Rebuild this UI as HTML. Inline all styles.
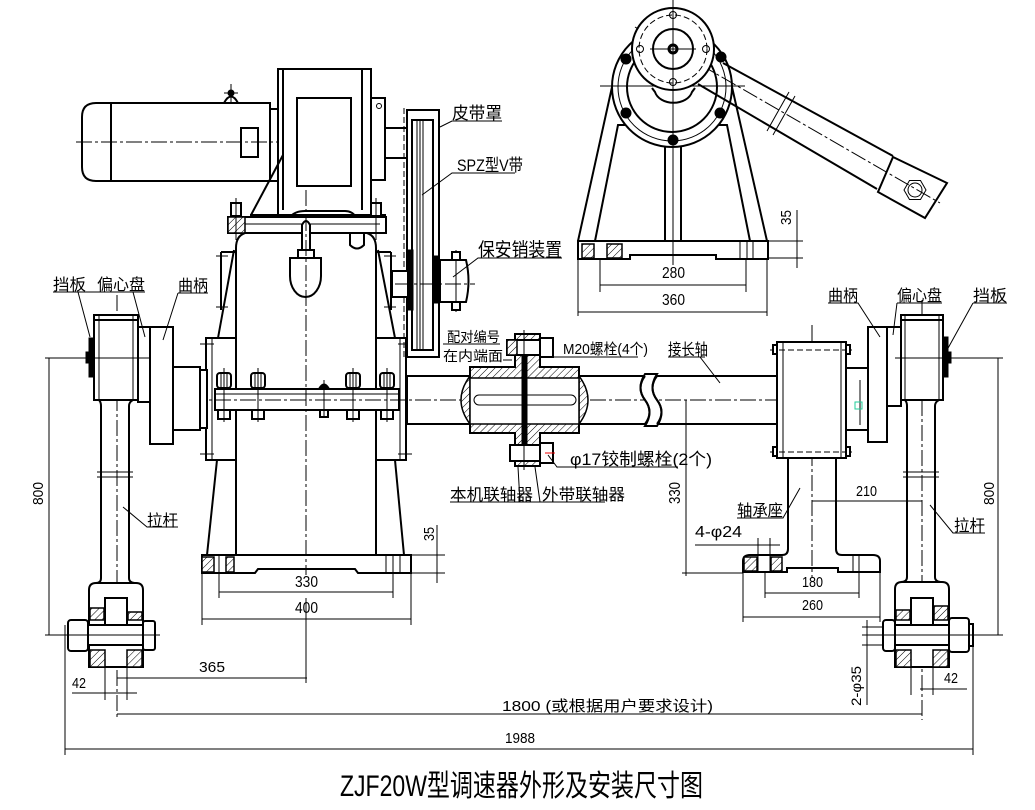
<!DOCTYPE html>
<html><head><meta charset="utf-8"><style>
html,body{margin:0;padding:0;background:#fff}
svg{display:block}
text{font-family:"Liberation Sans","Noto Sans CJK SC",sans-serif;fill:#000}
.k{stroke:#000;stroke-width:2;fill:none}
.w{stroke:#000;stroke-width:2;fill:#fff}
.n{stroke:#000;stroke-width:1;fill:none}
.c{stroke:#000;stroke-width:1;fill:none;stroke-dasharray:16 3 3 3}
.d{stroke:#000;stroke-width:1;fill:none;stroke-dasharray:6 3}
.h{fill:url(#hp);stroke:#000;stroke-width:1.5}
.b{fill:#000;stroke:#000;stroke-width:1}
</style></head><body>
<svg width="1035" height="810" viewBox="0 0 1035 810" xmlns="http://www.w3.org/2000/svg">
<defs>
<pattern id="hp" width="5" height="5" patternUnits="userSpaceOnUse" patternTransform="rotate(45)"><rect width="5" height="5" fill="#fff"/><line x1="0" y1="0" x2="0" y2="5" stroke="#000" stroke-width="1"/></pattern>
</defs>
<rect width="1035" height="810" fill="#fff"/>

<!-- ================= MOTOR + REDUCER ================= -->
<line class="c" x1="76" y1="142" x2="420" y2="142"/>
<path class="k" d="M111,103 H270 V181 H111 Z"/>
<path class="k" d="M111,103 H96 Q82,103 82,117 V167 Q82,181 96,181 H111"/>
<rect class="k" x="241" y="128" width="17" height="29"/>
<rect class="k" x="270" y="109" width="8" height="72"/>
<path class="k" d="M224,103 Q231,90 238,103"/>
<line class="n" x1="231" y1="84" x2="231" y2="102"/>
<line class="n" x1="224" y1="93" x2="238" y2="93"/>
<circle class="b" cx="231" cy="93" r="3"/>

<rect class="w" x="278" y="69" width="93" height="146"/>
<line class="k" x1="283" y1="69" x2="283" y2="210"/>
<line class="k" x1="362" y1="69" x2="362" y2="210"/>
<rect class="k" x="297" y="98" width="54" height="88"/>
<rect class="w" x="371" y="98" width="14" height="82"/>
<circle class="n" cx="379" cy="106" r="2.5"/>
<rect class="w" x="385" y="128" width="22" height="30"/>
<line class="k" x1="283" y1="155" x2="251" y2="215"/>
<path class="k" d="M250,215 H283 M362,215 H386"/>

<!-- top plate -->
<rect class="w" x="228" y="217" width="158" height="16"/>
<line class="n" x1="245" y1="224" x2="380" y2="224"/>
<rect class="h" x="228" y="217" width="17" height="16"/>
<path class="k" d="M290,217 Q295,211 305,211 H345 Q352,211 356,217"/>
<rect class="w" x="231" y="203" width="10" height="13"/>
<line class="n" x1="236" y1="198" x2="236" y2="240"/>
<rect class="w" x="371" y="203" width="10" height="13"/>
<line class="n" x1="376" y1="198" x2="376" y2="240"/>
<path class="k" d="M350,233 V245 Q357,252 364,245 V233" fill="#ffffd8"/>

<!-- pendulum -->
<path class="w" d="M302,256 V225 Q306,217 310,225 V256 Z"/>
<rect class="w" x="298" y="250" width="16" height="8"/>
<path class="w" d="M290,258 H321 V276 A15.5,21 0 0 1 290,276 Z"/>

<!-- gearbox body -->
<path class="k" d="M245,233 Q236,236 236,248 V555"/>
<path class="k" d="M367,233 Q376,236 376,248 V555"/>
<path class="k" d="M221,252 V310 M234,250 L218,338 M221,252 H236"/>
<path class="k" d="M391,252 V310 M378,250 L395,338 M391,252 H376"/>
<line class="n" x1="216" y1="256" x2="228" y2="256"/><line class="n" x1="216" y1="307" x2="228" y2="307"/>
<line class="n" x1="384" y1="256" x2="396" y2="256"/><line class="n" x1="384" y1="307" x2="396" y2="307"/>
<rect class="w" x="206" y="338" width="30" height="122"/>
<rect class="w" x="376" y="338" width="30" height="122"/>
<line class="n" x1="212" y1="338" x2="212" y2="460"/>
<line class="n" x1="400" y1="338" x2="400" y2="460"/>
<line class="n" x1="200" y1="344" x2="214" y2="344"/><line class="n" x1="200" y1="454" x2="214" y2="454"/>
<line class="n" x1="398" y1="344" x2="412" y2="344"/><line class="n" x1="398" y1="454" x2="412" y2="454"/>

<!-- horizontal shaft bar -->
<rect class="w" x="215" y="389" width="184" height="21"/>
<line class="n" x1="215" y1="394" x2="399" y2="394"/>
<g>
<rect class="w" x="217" y="373" width="14" height="15" rx="3"/><line class="n" x1="221" y1="373" x2="221" y2="388"/><line class="n" x1="227" y1="373" x2="227" y2="388"/><rect class="w" x="218" y="410" width="12" height="9"/>
<rect class="w" x="251" y="373" width="14" height="15" rx="3"/><line class="n" x1="255" y1="373" x2="255" y2="388"/><line class="n" x1="261" y1="373" x2="261" y2="388"/><rect class="w" x="252" y="410" width="12" height="9"/>
<rect class="w" x="346" y="373" width="14" height="15" rx="3"/><line class="n" x1="350" y1="373" x2="350" y2="388"/><line class="n" x1="356" y1="373" x2="356" y2="388"/><rect class="w" x="347" y="410" width="12" height="9"/>
<rect class="w" x="380" y="373" width="14" height="15" rx="3"/><line class="n" x1="384" y1="373" x2="384" y2="388"/><line class="n" x1="390" y1="373" x2="390" y2="388"/><rect class="w" x="381" y="410" width="12" height="9"/>
<line class="n" x1="224" y1="368" x2="224" y2="422"/><line class="n" x1="258" y1="368" x2="258" y2="422"/>
<line class="n" x1="353" y1="368" x2="353" y2="422"/><line class="n" x1="387" y1="368" x2="387" y2="422"/>
<path class="b" d="M319,388 Q324,380 329,388 Z"/><rect class="w" x="320" y="410" width="8" height="7"/>
<line class="n" x1="324" y1="380" x2="324" y2="418"/>
</g>

<!-- legs & base -->
<path class="k" d="M217,460 L207,555"/>
<path class="k" d="M395,460 L404,555"/>
<path class="w" d="M202,555 H411 V573 H358 L355,569 H258 L255,573 H202 Z"/>
<rect class="h" x="202" y="557" width="12" height="15"/>
<rect class="h" x="226" y="557" width="8" height="15"/>
<line class="n" x1="219" y1="555" x2="219" y2="573"/>
<line class="n" x1="386" y1="555" x2="386" y2="573"/><line class="n" x1="393" y1="555" x2="393" y2="573"/><line class="n" x1="400" y1="555" x2="400" y2="573"/>

<!-- centre line gearbox -->
<line class="c" x1="306" y1="190" x2="306" y2="575"/>
<line class="n" x1="306" y1="598" x2="306" y2="683"/>

<!-- ================= PULLEY / GUARD ================= -->
<line class="d" x1="404" y1="108" x2="404" y2="360"/>
<rect class="w" x="407" y="110" width="32" height="247"/>
<rect class="k" x="412" y="120" width="21" height="230"/>
<line class="n" x1="417" y1="120" x2="417" y2="350"/>
<line class="n" x1="420" y1="120" x2="420" y2="350"/>
<line class="n" x1="423" y1="120" x2="423" y2="350"/>
<rect class="b" x="408" y="250" width="5" height="60"/>
<rect class="b" x="433" y="256" width="5" height="47"/>
<rect class="w" x="392" y="271" width="16" height="26"/>
<path class="w" d="M440,260 H466 Q471,281 466,302 H440 Z"/>
<line class="n" x1="456" y1="250" x2="456" y2="312"/>
<rect class="w" x="452" y="252" width="8" height="8"/><rect class="w" x="452" y="302" width="8" height="8"/>
<line class="c" x1="395" y1="284" x2="475" y2="284"/>

<!-- ================= SIDE VIEW (top right) ================= -->
<path class="k" d="M612,87 L578,241"/>
<path class="k" d="M732,87 L767,241"/>
<path class="k" d="M630,125 H618 L595,241"/>
<path class="k" d="M715,125 H727 L750,241"/>
<rect class="w" x="665" y="146" width="16" height="95"/>
<path class="w" d="M578,241 H768 V259 H716 V255 H630 V259 H578 Z"/>
<rect class="h" x="582" y="244" width="12" height="14"/>
<rect class="h" x="607" y="244" width="15" height="14"/>
<line class="n" x1="740" y1="241" x2="740" y2="259"/><line class="n" x1="747" y1="241" x2="747" y2="259"/><line class="n" x1="753" y1="241" x2="753" y2="259"/>
<circle class="w" cx="672" cy="87" r="60"/>
<circle class="n" cx="672" cy="87" r="54"/>
<circle class="k" cx="672" cy="87" r="45"/>
<path class="k" d="M652,88 L655,92 A19,14 0 0 0 692,92 L695,88"/>
<line class="n" x1="600" y1="86" x2="745" y2="86"/>
<!-- arm -->
<line class="k" x1="723" y1="63" x2="893" y2="156"/>
<line class="k" x1="698" y1="84" x2="877" y2="189"/>
<line class="n" x1="789" y1="92" x2="767" y2="131"/>
<line class="n" x1="795" y1="96" x2="773" y2="135"/>
<path class="w" d="M893,157 L947,183 L925,218 L878,192 Z"/>
<polygon class="n" points="926,190 920.5,199.5 909.5,199.5 904,190 909.5,180.5 920.5,180.5"/>
<circle class="n" cx="915" cy="190" r="7"/>
<line class="c" x1="635" y1="27" x2="940" y2="203"/>
<!-- upper disc -->
<circle class="w" cx="673" cy="49" r="41"/>
<circle class="d" cx="673" cy="49" r="34"/>
<circle class="k" cx="673" cy="49" r="20"/>
<circle cx="673" cy="49" r="4" fill="#fff" stroke="#000" stroke-width="3"/>
<g class="n">
<circle cx="673" cy="15" r="3.5"/><circle cx="640" cy="49" r="3.5"/><circle cx="706" cy="49" r="3.5"/><circle cx="673" cy="82" r="3.5"/>
</g>
<line class="n" x1="673" y1="0" x2="673" y2="265"/>
<line class="n" x1="650" y1="49" x2="696" y2="49"/>
<circle class="b" cx="626" cy="59" r="5"/><circle class="b" cx="721" cy="57" r="5"/>
<circle class="b" cx="626" cy="113" r="5"/><circle class="b" cx="720" cy="113" r="5"/>
<circle class="b" cx="673" cy="140" r="5"/>
<!-- dims side view -->
<line class="n" x1="600" y1="259" x2="600" y2="292"/><line class="n" x1="746" y1="259" x2="746" y2="292"/>
<line class="n" x1="600" y1="285" x2="746" y2="285"/>
<line class="n" x1="578" y1="259" x2="578" y2="316"/><line class="n" x1="767" y1="259" x2="767" y2="316"/>
<line class="n" x1="578" y1="312" x2="767" y2="312"/>
<text x="662" y="278" font-size="16" textLength="23" lengthAdjust="spacingAndGlyphs">280</text>
<text x="662" y="305" font-size="16" textLength="23" lengthAdjust="spacingAndGlyphs">360</text>
<line class="n" x1="768" y1="241" x2="803" y2="241"/><line class="n" x1="768" y1="258" x2="803" y2="258"/>
<line class="n" x1="797" y1="210" x2="797" y2="268"/>
<text transform="translate(791,225) rotate(-90)" font-size="15" textLength="15" lengthAdjust="spacingAndGlyphs">35</text>

<!-- ================= COUPLING / LONG SHAFT ================= -->
<line class="c" x1="140" y1="400" x2="880" y2="400"/>
<path class="k" d="M407,376 H470 M579,376 H645 M657,376 H777 M407,424 H470 M579,424 H645 M657,424 H777 M407,376 V424"/>
<path class="w" d="M645,374 Q636,388 645,400 Q654,412 645,426 L657,426 Q666,412 657,400 Q648,388 657,374 Z" stroke="none"/>
<path class="k" d="M645,376 Q636,388 645,400 Q654,412 645,424"/>
<path class="k" d="M657,376 Q648,388 657,400 Q666,412 657,424"/>
<path d="M470,367 H515 V334 H540 V367 H579 V433 H540 V466 H515 V433 H470 Z" fill="url(#hp)" stroke="#000" stroke-width="2"/>
<path d="M470,376 Q452,400 470,424 Z" fill="url(#hp)" stroke="#000" stroke-width="1.5"/>
<path d="M579,376 Q597,400 579,424 Z" fill="url(#hp)" stroke="#000" stroke-width="1.5"/>
<rect x="470" y="378" width="109" height="46" fill="#fff" stroke="#000" stroke-width="1.5"/>
<rect class="n" x="474" y="395" width="102" height="10" rx="5"/>
<rect class="b" x="522" y="355" width="5" height="90"/>
<rect class="w" x="507" y="340" width="46" height="15"/>
<rect class="h" x="507" y="340" width="10" height="15"/>
<rect class="w" x="540" y="338" width="13" height="19"/>
<rect class="w" x="510" y="445" width="43" height="16"/>
<rect class="w" x="540" y="443" width="13" height="20"/>
<line x1="545" y1="453" x2="555" y2="453" stroke="#e00" stroke-width="1"/>
<line class="n" x1="524" y1="330" x2="524" y2="470"/>

<!-- ================= LEFT CRANK & ROD ================= -->
<line class="c" x1="117" y1="295" x2="117" y2="720"/>
<rect class="w" x="200" y="370" width="7" height="58"/>
<rect class="w" x="173" y="367" width="27" height="63"/>
<rect class="w" x="150" y="327" width="23" height="117"/>
<rect class="w" x="138" y="327" width="12" height="75"/>
<rect class="w" x="94" y="315" width="44" height="85"/>
<line class="n" x1="99" y1="315" x2="99" y2="400"/><line class="n" x1="133" y1="315" x2="133" y2="400"/>
<line class="k" x1="94" y1="320" x2="138" y2="320"/>
<path class="k" d="M99,400 Q101,402 101,406 V578 Q101,583 96,583 M133,400 Q129,402 129,406 V578 Q129,583 136,583"/>
<line class="n" x1="97" y1="472" x2="133" y2="472"/><line class="n" x1="97" y1="477" x2="133" y2="477"/>
<rect class="b" x="89" y="338" width="5" height="39"/>
<rect class="b" x="86" y="352" width="3" height="11"/>
<path class="w" d="M89,667 V590 Q89,583 96,583 H136 Q143,583 143,590 V667 Z"/>
<rect class="w" x="105" y="598" width="22" height="27"/>
<rect class="h" x="90" y="608" width="14" height="12"/><rect class="h" x="128" y="612" width="14" height="8"/>
<rect class="h" x="90" y="650" width="15" height="17"/><rect class="h" x="127" y="650" width="15" height="17"/>
<rect class="w" x="88" y="625" width="55" height="20"/>
<rect class="w" x="68" y="620" width="20" height="31" rx="3"/>
<rect class="w" x="143" y="621" width="12" height="29" rx="2"/>
<line class="n" x1="65" y1="626" x2="65" y2="645"/>
<line class="n" x1="60" y1="635" x2="160" y2="635"/>

<!-- ================= RIGHT BEARING SEAT, CRANK & ROD ================= -->
<line class="c" x1="812" y1="325" x2="812" y2="578"/>
<line class="c" x1="922" y1="300" x2="922" y2="720"/>
<rect class="w" x="777" y="342" width="69" height="116"/>
<line class="n" x1="783" y1="342" x2="783" y2="458"/><line class="n" x1="841" y1="342" x2="841" y2="458"/>
<line class="d" x1="770" y1="350" x2="852" y2="350"/><line class="d" x1="770" y1="452" x2="852" y2="452"/>
<rect class="w" x="773" y="345" width="4" height="9"/><rect class="w" x="773" y="447" width="4" height="9"/>
<rect class="w" x="846" y="345" width="4" height="9"/><rect class="w" x="846" y="447" width="4" height="9"/>
<path class="k" d="M788,458 V549 Q788,555 782,555 H750 Q743,555 743,561 V572 H787 V568 H838 V572 H880 V561 Q880,555 873,555 H842 Q836,555 836,549 V458"/>
<rect class="h" x="744" y="557" width="13" height="14"/>
<rect class="h" x="771" y="557" width="11" height="14"/>
<line class="n" x1="853" y1="555" x2="853" y2="572"/><line class="n" x1="859" y1="555" x2="859" y2="572"/>
<rect class="w" x="846" y="368" width="22" height="62"/>
<line class="n" x1="860" y1="380" x2="860" y2="425"/>
<rect x="855" y="402" width="7" height="7" fill="none" stroke="#2c9" stroke-width="1"/>
<rect class="w" x="868" y="327" width="19" height="115"/>
<rect class="w" x="887" y="327" width="14" height="79"/>
<rect class="w" x="901" y="315" width="42" height="85"/>
<line class="n" x1="905" y1="315" x2="905" y2="400"/><line class="n" x1="939" y1="315" x2="939" y2="400"/>
<line class="k" x1="901" y1="320" x2="943" y2="320"/>
<line class="n" x1="895" y1="358" x2="1003" y2="358"/>
<path class="k" d="M905,400 Q907,402 907,406 V577 Q907,582 901,582 M939,400 Q935,402 935,406 V577 Q935,582 942,582"/>
<line class="n" x1="903" y1="472" x2="939" y2="472"/><line class="n" x1="903" y1="477" x2="939" y2="477"/>
<rect class="b" x="943" y="337" width="5" height="40"/>
<rect class="b" x="948" y="352" width="3" height="11"/>
<path class="w" d="M895,667 V589 Q895,582 902,582 H942 Q949,582 949,589 V667 Z"/>
<rect class="w" x="911" y="598" width="22" height="27"/>
<rect class="h" x="896" y="610" width="14" height="10"/><rect class="h" x="934" y="606" width="14" height="14"/>
<rect class="h" x="896" y="650" width="15" height="17"/><rect class="h" x="933" y="650" width="15" height="17"/>
<rect class="w" x="895" y="625" width="54" height="20"/>
<rect class="w" x="883" y="620" width="12" height="31" rx="3"/>
<rect class="w" x="949" y="618" width="20" height="34" rx="3"/>
<rect class="w" x="969" y="624" width="4" height="22"/>
<line class="n" x1="862" y1="635" x2="1003" y2="635"/>

<!-- ================= DIMENSIONS ================= -->
<line class="n" x1="219" y1="573" x2="219" y2="598"/><line class="n" x1="393" y1="573" x2="393" y2="598"/>
<line class="n" x1="219" y1="592" x2="393" y2="592"/>
<line class="n" x1="202" y1="573" x2="202" y2="625"/><line class="n" x1="411" y1="573" x2="411" y2="625"/>
<line class="n" x1="202" y1="619" x2="411" y2="619"/>
<text x="295" y="587" font-size="16" textLength="23" lengthAdjust="spacingAndGlyphs">330</text>
<text x="295" y="613" font-size="16" textLength="23" lengthAdjust="spacingAndGlyphs">400</text>
<line class="n" x1="404" y1="555" x2="445" y2="555"/><line class="n" x1="411" y1="573" x2="445" y2="573"/>
<line class="n" x1="437" y1="525" x2="437" y2="583"/>
<text transform="translate(434,541) rotate(-90)" font-size="15" textLength="14" lengthAdjust="spacingAndGlyphs">35</text>
<line class="n" x1="686" y1="400" x2="686" y2="576"/>
<line class="n" x1="682" y1="573" x2="743" y2="573"/>
<text transform="translate(680,504) rotate(-90)" font-size="16" textLength="22" lengthAdjust="spacingAndGlyphs">330</text>
<line class="n" x1="695" y1="545" x2="780" y2="545"/>
<line class="n" x1="758" y1="538" x2="758" y2="573"/><line class="n" x1="770" y1="538" x2="770" y2="573"/>
<line class="n" x1="812" y1="501" x2="922" y2="501"/>
<text x="856" y="496" font-size="15" textLength="21" lengthAdjust="spacingAndGlyphs">210</text>
<line class="n" x1="765" y1="572" x2="765" y2="598"/><line class="n" x1="859" y1="572" x2="859" y2="598"/>
<line class="n" x1="765" y1="593" x2="859" y2="593"/>
<line class="n" x1="743" y1="572" x2="743" y2="622"/><line class="n" x1="880" y1="572" x2="880" y2="622"/>
<line class="n" x1="743" y1="617" x2="880" y2="617"/>
<text x="802" y="587" font-size="15" textLength="21" lengthAdjust="spacingAndGlyphs">180</text>
<text x="802" y="610" font-size="15" textLength="21" lengthAdjust="spacingAndGlyphs">260</text>
<line class="n" x1="45" y1="358" x2="150" y2="358"/>
<line class="n" x1="45" y1="635" x2="68" y2="635"/>
<line class="n" x1="49" y1="358" x2="49" y2="635"/>
<text transform="translate(43,505) rotate(-90)" font-size="15" textLength="23" lengthAdjust="spacingAndGlyphs">800</text>
<line class="n" x1="998" y1="358" x2="998" y2="635"/>
<text transform="translate(994,505) rotate(-90)" font-size="15" textLength="23" lengthAdjust="spacingAndGlyphs">800</text>
<line class="n" x1="117" y1="678" x2="307" y2="678"/>
<text x="199" y="672" font-size="15" textLength="26" lengthAdjust="spacingAndGlyphs">365</text>
<line class="n" x1="105" y1="667" x2="105" y2="700"/><line class="n" x1="127" y1="667" x2="127" y2="700"/>
<line class="n" x1="72" y1="693" x2="137" y2="693"/>
<text x="72" y="688" font-size="15" textLength="14" lengthAdjust="spacingAndGlyphs">42</text>
<line class="n" x1="911" y1="667" x2="911" y2="695"/><line class="n" x1="933" y1="667" x2="933" y2="695"/>
<line class="n" x1="920" y1="689" x2="967" y2="689"/>
<text x="944" y="683" font-size="15" textLength="14" lengthAdjust="spacingAndGlyphs">42</text>
<line class="n" x1="867" y1="620" x2="867" y2="705"/>
<line class="n" x1="862" y1="627" x2="884" y2="627"/><line class="n" x1="862" y1="645" x2="884" y2="645"/>
<text transform="translate(861,706) rotate(-90)" font-size="14" textLength="40" lengthAdjust="spacingAndGlyphs">2-φ35</text>
<line class="n" x1="65" y1="625" x2="65" y2="755"/>
<line class="n" x1="973" y1="640" x2="973" y2="755"/>
<line class="n" x1="117" y1="714" x2="922" y2="714"/>
<line class="n" x1="65" y1="749" x2="973" y2="749"/>
<text x="502" y="711" font-size="15" textLength="211" lengthAdjust="spacingAndGlyphs">1800 (或根据用户要求设计)</text>
<text x="505" y="743" font-size="15" textLength="30" lengthAdjust="spacingAndGlyphs">1988</text>

<!-- ================= LABELS ================= -->
<g font-size="16">
<text x="53" y="290" textLength="33" lengthAdjust="spacingAndGlyphs">挡板</text>
<text x="97" y="290" textLength="48" lengthAdjust="spacingAndGlyphs">偏心盘</text>
<text x="178" y="291" textLength="30" lengthAdjust="spacingAndGlyphs">曲柄</text>
<text x="828" y="301" textLength="30" lengthAdjust="spacingAndGlyphs">曲柄</text>
<text x="897" y="301" textLength="45" lengthAdjust="spacingAndGlyphs">偏心盘</text>
<text x="973" y="301" textLength="34" lengthAdjust="spacingAndGlyphs">挡板</text>
<text x="147" y="526" textLength="31" lengthAdjust="spacingAndGlyphs">拉杆</text>
<text x="954" y="531" textLength="31" lengthAdjust="spacingAndGlyphs">拉杆</text>
<text x="450" y="500" textLength="83" lengthAdjust="spacingAndGlyphs">本机联轴器</text>
<text x="542" y="500" textLength="83" lengthAdjust="spacingAndGlyphs">外带联轴器</text>
</g>
<text x="452" y="119" font-size="17" textLength="50" lengthAdjust="spacingAndGlyphs">皮带罩</text>
<text x="457" y="171" font-size="17" textLength="66" lengthAdjust="spacingAndGlyphs">SPZ型V带</text>
<text x="478" y="256" font-size="19" textLength="84" lengthAdjust="spacingAndGlyphs">保安销装置</text>
<text x="447" y="342" font-size="14" textLength="53" lengthAdjust="spacingAndGlyphs">配对编号</text>
<text x="443" y="361" font-size="14" textLength="60" lengthAdjust="spacingAndGlyphs">在内端面</text>
<text x="563" y="354" font-size="15" textLength="85" lengthAdjust="spacingAndGlyphs">M20螺栓(4个)</text>
<text x="668" y="355" font-size="16" textLength="40" lengthAdjust="spacingAndGlyphs">接长轴</text>
<text x="570" y="465" font-size="17" textLength="142" lengthAdjust="spacingAndGlyphs">φ17铰制螺栓(2个)</text>
<text x="737" y="516" font-size="16" textLength="46" lengthAdjust="spacingAndGlyphs">轴承座</text>
<text x="695" y="537" font-size="16" textLength="47" lengthAdjust="spacingAndGlyphs">4-φ24</text>

<g class="n">
<path d="M53,292 H145 M78,292 L90,337 M133,292 L145,337"/>
<path d="M178,293 H208 M178,293 L163,340"/>
<path d="M828,303 H858 L880,337 M897,303 H942 M897,303 L893,335 M973,303 H1007 M973,303 L947,350"/>
<path d="M123,507 L147,527 H178"/>
<path d="M930,505 L953,533 H985"/>
<path d="M440,127 L452,121 H502"/>
<path d="M422,195 L452,173 H515"/>
<path d="M453,277 L478,258 H562"/>
<path d="M443,344 H500"/>
<path d="M503,360 H512"/>
<path d="M553,357 H638"/>
<path d="M668,357 H705 M700,357 L720,383"/>
<path d="M548,455 L557,467 H678"/>
<path d="M450,502 H605 M518,467 L520,502 M535,467 L540,502"/>
<path d="M737,518 H783 L800,488"/>
</g>

<text x="340" y="796" font-size="30" textLength="363" lengthAdjust="spacingAndGlyphs">ZJF20W型调速器外形及安装尺寸图</text>
</svg>
</body></html>
